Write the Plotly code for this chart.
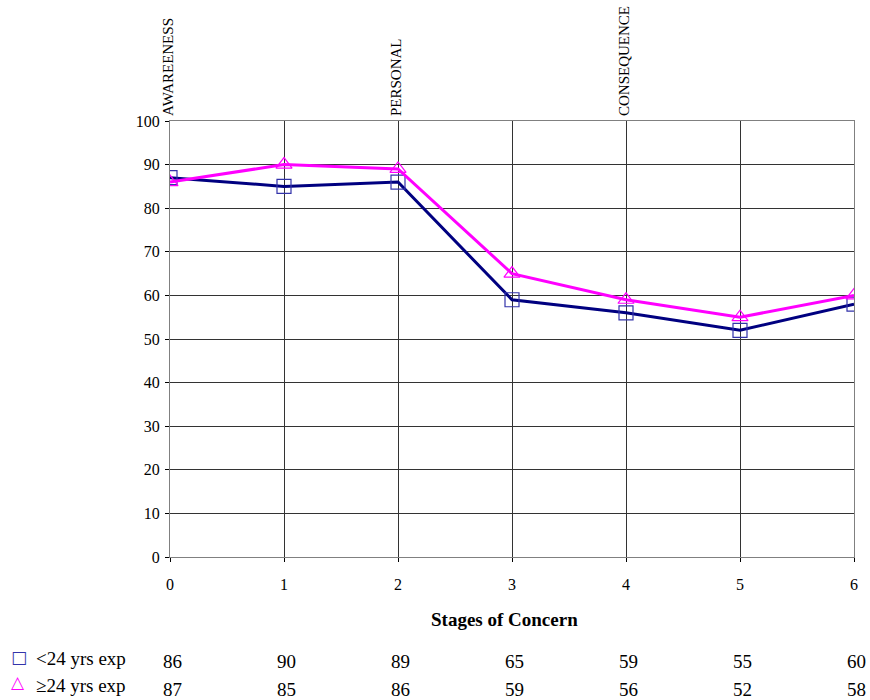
import plotly.graph_objects as go

stages = [0, 1, 2, 3, 4, 5, 6]
navy_vals = [87, 85, 86, 59, 56, 52, 58]
magenta_vals = [86, 90, 89, 65, 59, 55, 60]
row1_label = "&lt;24 yrs exp"
row1_vals = [86, 90, 89, 65, 59, 55, 60]
row2_label = "≥24 yrs exp"
row2_vals = [87, 85, 86, 59, 56, 52, 58]
top_labels = {0: "AWAREENESS", 2: "PERSONAL", 4: "CONSEQUENCE"}
y_ticks = list(range(0, 101, 10))

FONT = "'Liberation Serif', 'Times New Roman', serif"

W, H = 870, 700
L, R, T, B = 170, 12, 121, 143
pw, ph = W - L - R, H - T - B


def px_x(p):
    return (p - L) / pw


def px_y(p):
    return (H - B - p) / ph


fig = go.Figure()
fig.add_trace(go.Scatter(x=stages, y=navy_vals, mode="lines+markers",
                         line=dict(color="#000080", width=3),
                         marker=dict(symbol="square-open", size=14, color="#3333AA", line=dict(width=1.2)),
                         showlegend=False))
fig.add_trace(go.Scatter(x=stages, y=magenta_vals, mode="lines+markers",
                         line=dict(color="#FF00FF", width=3),
                         marker=dict(symbol="triangle-up-open", size=14, color="#FF00FF", line=dict(width=1.2)),
                         showlegend=False))

ann = []
for xv, t in top_labels.items():
    ann.append(dict(x=xv, y=1, xref="x", yref="paper", text=t, textangle=-90,
                    showarrow=False, xanchor="center", yanchor="bottom", yshift=3, xshift=-2,
                    font=dict(family=FONT, size=15, color="black")))
ann.append(dict(x=0.5, y=px_y(619), xref="paper", yref="paper", text="<b>Stages of Concern</b>",
                showarrow=False, xanchor="center", yanchor="middle", xshift=-8,
                font=dict(family=FONT, size=19, color="black")))
for xv, v in zip(stages, row1_vals):
    ann.append(dict(x=xv, y=px_y(661), xref="x", yref="paper", text=str(v), showarrow=False,
                    xanchor="center", yanchor="middle", xshift=2, font=dict(family=FONT, size=19, color="black")))
for xv, v in zip(stages, row2_vals):
    ann.append(dict(x=xv, y=px_y(689), xref="x", yref="paper", text=str(v), showarrow=False,
                    xanchor="center", yanchor="middle", xshift=2, font=dict(family=FONT, size=19, color="black")))
ann.append(dict(x=px_x(8), y=px_y(657), xref="paper", yref="paper", text="□", showarrow=False,
                xanchor="left", yanchor="middle", font=dict(family="DejaVu Sans", size=17, color="#3333AA")))
ann.append(dict(x=px_x(8), y=px_y(682), xref="paper", yref="paper", text="△", showarrow=False,
                xanchor="left", yanchor="middle", font=dict(family="DejaVu Sans", size=17, color="#FF00FF")))
ann.append(dict(x=px_x(33), y=px_y(658), xref="paper", yref="paper", text=row1_label,
                showarrow=False, xanchor="left", yanchor="middle", font=dict(family=FONT, size=19, color="black")))
ann.append(dict(x=px_x(33), y=px_y(685), xref="paper", yref="paper", text=row2_label,
                showarrow=False, xanchor="left", yanchor="middle", font=dict(family=FONT, size=19, color="black")))

fig.update_layout(
    width=W, height=H,
    margin=dict(l=L, r=R, t=T, b=B),
    paper_bgcolor="white", plot_bgcolor="white",
    annotations=ann,
    font=dict(family=FONT, size=16, color="black"),
)
fig.update_xaxes(range=[0, 6], tickvals=stages, showgrid=True, gridcolor="#333333", gridwidth=1,
                 showline=True, linecolor="#808080", linewidth=1, mirror=True,
                 ticks="outside", ticklen=4, tickcolor="black", zeroline=False,
                 tickfont=dict(family=FONT, size=16), ticklabelstandoff=9)
fig.update_yaxes(range=[0, 100], tickvals=y_ticks, showgrid=True, gridcolor="#333333", gridwidth=1,
                 showline=True, linecolor="#808080", linewidth=1, mirror=True,
                 ticks="outside", ticklen=4, tickcolor="black", zeroline=False,
                 tickfont=dict(family=FONT, size=16), ticklabelstandoff=2)

fig.write_html("out.html")
